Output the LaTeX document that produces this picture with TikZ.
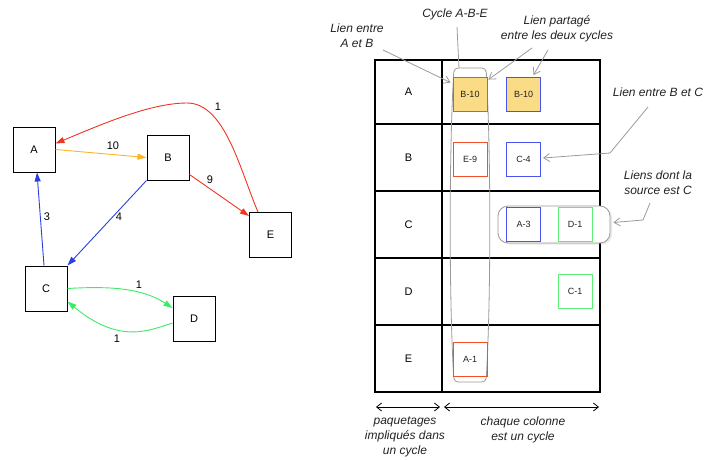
\documentclass[tikz,border=0pt]{standalone}
\usepackage{fontspec}
\setmainfont{Liberation Sans}
\usetikzlibrary{arrows.meta,shadows}
\definecolor{cOrange}{HTML}{FCB326}
\definecolor{cRed}{HTML}{EE3524}
\definecolor{cBlue}{HTML}{2A3FE0}
\definecolor{cGreen}{HTML}{3CEB64}
\definecolor{cFill}{HTML}{FADB86}
\definecolor{cBoxRed}{HTML}{F2502A}
\definecolor{cBoxBlue}{HTML}{4A55F0}
\definecolor{cBoxGreen}{HTML}{5CF07A}
\definecolor{cNote}{HTML}{9A9A9A}
\definecolor{cTxt}{HTML}{222222}
\begin{document}
\begin{tikzpicture}[x=1pt,y=-1pt,
 gnode/.style={draw=black, line width=1pt, minimum width=42pt, minimum height=45pt, inner sep=0pt, font=\fontsize{11}{13}\selectfont},
 edge/.style={line width=0.9pt, -{Triangle[length=9pt,width=6pt]}},
 elabel/.style={font=\fontsize{11}{13}\selectfont},
 cbox/.style={draw, line width=0.9pt, minimum width=34pt, minimum height=34pt, inner sep=0pt, font=\fontsize{9}{11}\selectfont, text=cTxt},
 rowlabel/.style={font=\fontsize{11}{13}\selectfont},
 note/.style={font=\itshape\fontsize{12}{15}\selectfont, align=center, text=cTxt},
 notearrow/.style={draw=cNote, line width=0.8pt, -{Straight Barb[length=6pt,width=8pt]}},
 noteline/.style={draw=cNote, line width=0.8pt},
 gridline/.style={line width=1.1pt},
 span/.style={line width=0.8pt, {Straight Barb[length=5pt,width=8pt]}-{Straight Barb[length=5pt,width=8pt]}}
]
\useasboundingbox (0,0) rectangle (707,459);

% ---------- graph ----------
\node[gnode] (A) at (34,149.5) {A};
\node[gnode] (B) at (168,157.5) {B};
\node[gnode] (E) at (270.5,235) {E};
\node[gnode] (C) at (46,288.5) {C};
\node[gnode] (D) at (194,319) {D};

\draw[edge, cOrange] (A.east) -- (B.west);
\draw[edge, cRed] ([yshift=6pt]B.south east) -- ([yshift=-4pt]E.north west);
\draw[edge, cBlue] (B.south west) -- (C.north east);
\draw[edge, cBlue] ([xshift=-2pt]C.north) -- ([xshift=3pt]A.south);
\draw[edge, cRed] ([xshift=9pt]E.north west) .. controls (240,170) and (225,103) .. (187,103)
      .. controls (150,103) and (100,125) .. ([yshift=6pt]A.east);
\draw[edge, cGreen] (C.east) .. controls (110,286) and (142,288) .. ([yshift=11pt]D.west);
\draw[edge, cGreen] ([yshift=-4pt]D.west) .. controls (150,330) and (120,345) .. ([yshift=-13pt]C.east);

\node[elabel] (lab10) at (113,146) {10};
\node[elabel] (lab9) at (210,180) {9};
\node[elabel] (lab4) at (119,217) {4};
\node[elabel] (lab3) at (47,217) {3};
\node[elabel] (labEA) at (218,107) {1};
\node[elabel] (labCD) at (139,285) {1};
\node[elabel] (labDC) at (117,339) {1};

% ---------- table ----------
\draw[gridline] (375,60) rectangle (600,392);
\draw[gridline] (442,60) -- (442,392);
\foreach \yy in {124,191,258,325} \draw[gridline] (375,\yy) -- (600,\yy);

\node[rowlabel] (rA) at (408.5,92) {A};
\node[rowlabel] (rB) at (408.5,157.5) {B};
\node[rowlabel] (rC) at (408.5,224.5) {C};
\node[rowlabel] (rD) at (408.5,291.5) {D};
\node[rowlabel] (rE) at (408.5,358.5) {E};

% cycle A-B-E outline
\draw[noteline, rounded corners=4pt] (470,68) -- (486,68) .. controls (491,150) and (491,300) .. (486,382)
      -- (454,382) .. controls (449,300) and (449,150) .. (454,68) -- cycle;

% C row group
\node[draw=cNote, fill=white, rounded corners=10pt, minimum width=112pt, minimum height=37pt,
      line width=0.8pt, drop shadow={shadow xshift=2pt, shadow yshift=-1.5pt, opacity=0.18}] (capC) at (554,224.5) {};

\node[cbox, draw=cBoxRed, fill=cFill] (b1) at (470,94.5) {B-10};
\node[cbox, draw=cBoxBlue, fill=cFill] (b2) at (523.5,94.5) {B-10};
\node[cbox, draw=cBoxRed] (e9) at (470,159) {E-9};
\node[cbox, draw=cBoxBlue] (c4) at (523.5,159) {C-4};
\node[cbox, draw=cBoxBlue] (a3) at (523.5,224) {A-3};
\node[cbox, draw=cBoxGreen] (d1) at (575,224) {D-1};
\node[cbox, draw=cBoxGreen] (c1) at (575,291) {C-1};
\node[cbox, draw=cBoxRed] (a1) at (470,359) {A-1};

% ---------- annotations ----------
\node[note] (nCycle) at (455,14) {Cycle A-B-E};
\coordinate (cycTop) at (459,68);
\coordinate (cycFrom) at (457,27);
\draw[noteline] (cycFrom) -- (cycTop);

\node[note] (nAB) at (357,35.5) {Lien entre\\A et B};
\coordinate (abFrom) at (383,50);
\draw[notearrow] (abFrom) -- ([shift={(-2pt,-5.5pt)}]b1.north west);

\node[note] (nShared) at (557,28.5) {Lien partagé\\entre les deux cycles};
\coordinate (shFrom1) at (532,48);
\coordinate (shFrom2) at (548,50);
\draw[notearrow] (shFrom1) -- ([shift={(1pt,-2.5pt)}]b1.north east);
\draw[notearrow] (shFrom2) -- ([xshift=10pt,yshift=2pt]b2.north);

\node[note] (nBC) at (658,92) {Lien entre B et C};
\coordinate (bcFrom) at (648,107);
\coordinate (bcBend) at (610,153);
\draw[notearrow] (bcFrom) -- (bcBend) -- ([shift={(2pt,1pt)}]c4.east);

\node[note] (nSrc) at (658,182.5) {Liens dont la\\source est C};
\coordinate (srcFrom) at (650,203);
\coordinate (srcBend) at (643,220);
\draw[notearrow] (srcFrom) -- (srcBend) -- ([shift={(3pt,2pt)}]capC.east);

% ---------- bottom spans ----------
\coordinate (s1a) at (376,407);
\coordinate (s1b) at (440,407);
\coordinate (s2a) at (444,407);
\coordinate (s2b) at (599,407);
\draw[span] (s1a) -- (s1b);
\draw[span] (s2a) -- (s2b);
\node[note] (nPkg) at (405,437) {paquetages\\impliqués dans\\un cycle};
\node[note] (nCol) at (523,429.5) {chaque colonne\\est un cycle};
\end{tikzpicture}
\end{document}
